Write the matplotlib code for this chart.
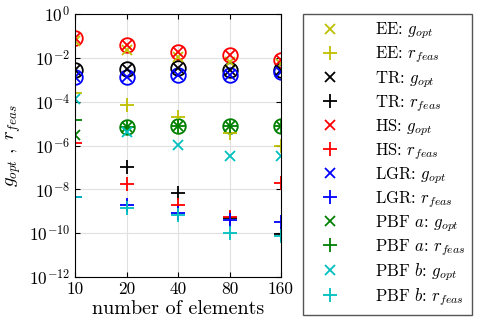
import numpy as np
import matplotlib
matplotlib.use("Agg")
import matplotlib.pyplot as plt

plt.rcParams['font.family']='serif'
plt.rcParams['font.serif']=['cmr10']
plt.rcParams['mathtext.fontset']='cm'
plt.rcParams['axes.formatter.use_mathtext']=True

n=np.array([10,20,40,80,160])

# log10 of the values
ee_g=[-1.25,-1.62,-1.95,-2.18,-2.3]
ee_r=[-3.6,-4.15,-4.7,-5.45,-6.0]
tr_g=[-2.55,-2.53,-2.45,-2.56,-2.56]
tr_r=[np.nan,-6.97,-8.16,-9.32,-10.06]
hs_g=[-1.1,-1.42,-1.75,-1.87,-2.1]
hs_r=[-5.9,-7.76,-8.72,-9.28,-7.7]
lgr_g=[-2.86,-2.86,-2.79,-2.79,-2.63]
lgr_r=[-8.34,-8.72,-9.07,-9.38,-9.48]
pa_g=[-5.53,-5.14,-5.11,-5.11,-5.11]
pa_r=[-4.84,-5.14,-5.11,-5.11,-5.11]
pb_g=[-3.9,-5.37,-5.98,-6.48,-6.48]
pb_r=[-8.36,-8.87,-9.18,-9.98,-10.14]
pa_circ=[np.nan,-5.14,-5.11,-5.11,-5.11]

yel=(0.75,0.75,0)
grn=(0,0.5,0)
cyn=(0,0.75,0.75)

series=[("EE",ee_g,ee_r,yel),
	("TR",tr_g,tr_r,"k"),
	("HS",hs_g,hs_r,"r"),
	("LGR",lgr_g,lgr_r,"b"),
	(r"PBF $a$",pa_g,pa_r,grn),
	(r"PBF $b$",pb_g,pb_r,cyn)]

fig=plt.figure(figsize=(4.98,3.31),dpi=100)
ax=fig.add_axes([75/498,1-277/331,206/498,263/331])

# circles around some g_opt markers
for vals,c in [(hs_g,"r"),(tr_g,"k"),(lgr_g,"b"),(pa_circ,grn)]:
	ax.plot(n,10**np.array(vals),"o",mfc="none",mec=c,ms=10.5,mew=1.3)

for name,g,r,c in series:
	ax.plot(n,10**np.array(g),"x",color=c,ms=7.5,mew=1.3,label=name+r": $g_{opt}$")
	ax.plot(n,10**np.array(r),"+",color=c,ms=10,mew=1.3,label=name+r": $r_{feas}$")

ax.set_xscale("log",base=2)
ax.set_yscale("log")
ax.set_xlim(10,160)
ax.set_ylim(1e-12,1)
ax.set_xticks(n)
ax.set_xticklabels([str(v) for v in n])
ax.set_yticks([10.0**k for k in range(-12,1,2)])
ax.minorticks_off()
ax.tick_params(direction="in",labelsize=12.5,top=True,right=True)
ax.grid(color="#e0e0e0",lw=0.8)
ax.set_axisbelow(True)
ax.set_xlabel("number of elements",fontsize=14.5,labelpad=2)
ax.set_ylabel(r"$g_{opt}\ ,\ r_{feas}$",fontsize=13.5)
ax.yaxis.set_label_coords(-0.25,0.5)
leg=ax.legend(loc="upper left",bbox_to_anchor=(303/498,1-14/331),bbox_transform=fig.transFigure,
	borderaxespad=0,fontsize=12,fancybox=False,edgecolor="#555555",framealpha=1,
	borderpad=0.4,labelspacing=0.2,handletextpad=1.5,handlelength=2.4)
leg.get_frame().set_linewidth(1.0)
plt.savefig("out.png",dpi=100)
